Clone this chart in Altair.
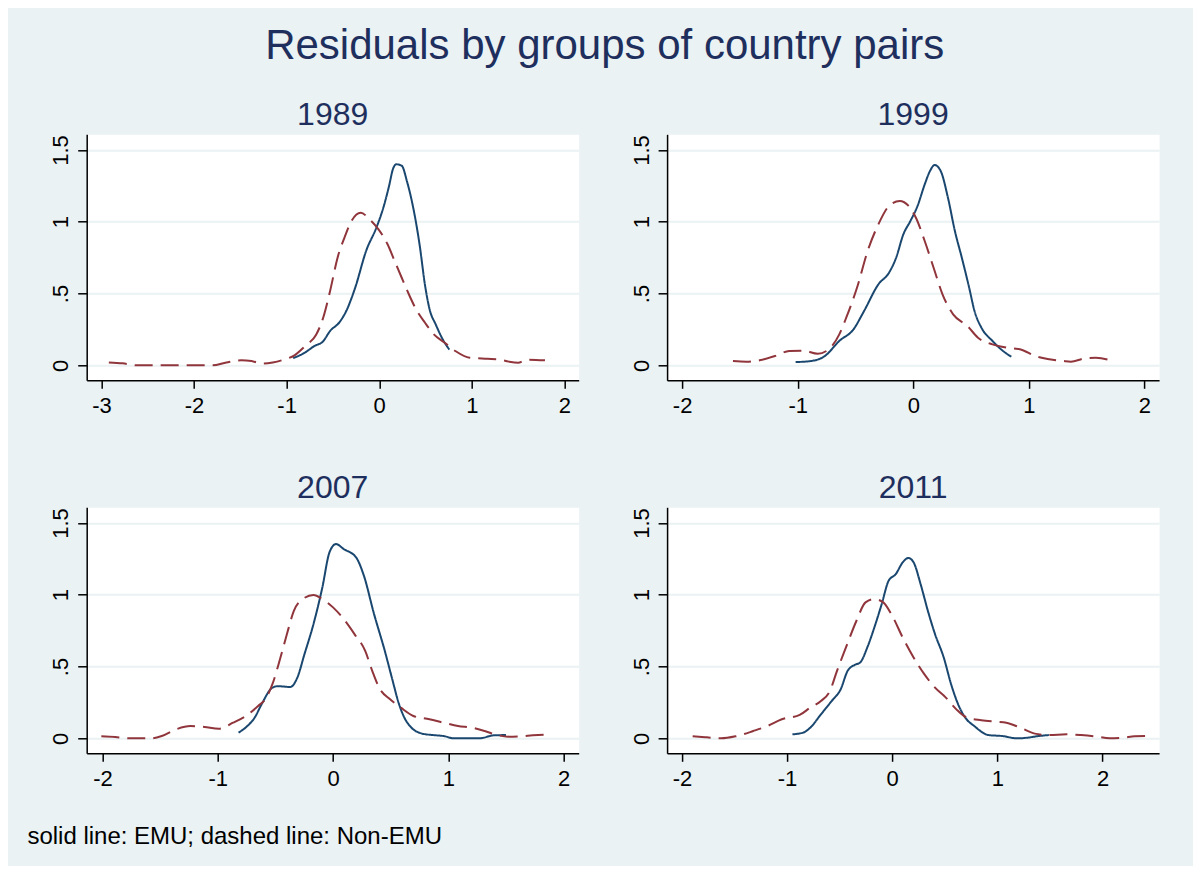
import altair as alt
import pandas as pd

# ---------------- data ----------------
YEARS = ["1989", "1999", "2007", "2011"]

EMU_1989_X = [-0.93, -0.80, -0.70, -0.61, -0.53, -0.43, -0.355, -0.26, -0.14, -0.03, 0.05, 0.11, 0.147, 0.185,
              0.243, 0.30, 0.36, 0.436, 0.494, 0.544, 0.61, 0.687, 0.757]
EMU_1989_Y = [0.05, 0.09, 0.135, 0.165, 0.24, 0.30, 0.38, 0.54, 0.80, 0.96, 1.11, 1.26, 1.365, 1.40,
              1.39, 1.28, 1.12, 0.84, 0.56, 0.39, 0.285, 0.18, 0.11]
NON_1989_X = [-2.92, -2.77, -2.61, -2.305, -1.80, -1.65, -1.49, -1.38, -1.26, -1.15, -1.03, -0.915, -0.80, -0.68,
              -0.606, -0.53, -0.45, -0.375, -0.30, -0.20, -0.104, -0.008, 0.09, 0.166, 0.243, 0.32, 0.398, 0.494,
              0.59, 0.707, 0.822, 0.977, 1.17, 1.286, 1.40, 1.50, 1.595, 1.79]
NON_1989_Y = [0.02, 0.014, 0.0, 0.0, 0.0, 0.02, 0.035, 0.03, 0.012, 0.02, 0.04, 0.07, 0.135, 0.215,
              0.33, 0.52, 0.75, 0.89, 1.005, 1.063, 1.017, 0.947, 0.843, 0.727, 0.61, 0.495, 0.39, 0.297,
              0.216, 0.158, 0.10, 0.053, 0.046, 0.042, 0.026, 0.019, 0.04, 0.035]

EMU_1999_X = [-1.018, -0.888, -0.765, -0.64, -0.518, -0.426, -0.302, -0.21, -0.148, -0.086, -0.025, 0.037, 0.099,
              0.145, 0.185, 0.237, 0.30, 0.36, 0.42, 0.484, 0.53, 0.59, 0.685, 0.777, 0.848]
EMU_1999_Y = [0.023, 0.03, 0.065, 0.17, 0.25, 0.378, 0.564, 0.645, 0.75, 0.912, 1.005, 1.11, 1.26,
              1.354, 1.395, 1.354, 1.168, 0.936, 0.75, 0.54, 0.378, 0.262, 0.17, 0.10, 0.06]
NON_1999_X = [-1.56, -1.443, -1.32, -1.197, -1.073, -0.95, -0.826, -0.734, -0.64, -0.58, -0.487, -0.395, -0.302,
              -0.21, -0.117, -0.04, 0.022, 0.099, 0.176, 0.253, 0.345, 0.469, 0.56, 0.685, 0.808, 0.93, 1.054,
              1.178, 1.30, 1.363, 1.486, 1.58, 1.733]
NON_1999_Y = [0.03, 0.026, 0.037, 0.065, 0.10, 0.102, 0.081, 0.11, 0.216, 0.332, 0.54, 0.796, 0.982,
              1.11, 1.145, 1.11, 1.03, 0.866, 0.68, 0.495, 0.355, 0.274, 0.193, 0.146, 0.123, 0.111, 0.065,
              0.042, 0.03, 0.026, 0.049, 0.053, 0.03]

EMU_2007_X = [-0.82, -0.743, -0.68, -0.62, -0.526, -0.48, -0.37, -0.31, -0.248, -0.17, -0.093, -0.031, 0.025,
              0.093, 0.20, 0.263, 0.356, 0.449, 0.51, 0.573, 0.619, 0.681, 0.774, 0.867, 0.96, 1.053, 1.269,
              1.393, 1.50]
EMU_2007_Y = [0.04, 0.086, 0.144, 0.237, 0.353, 0.363, 0.358, 0.423, 0.586, 0.795, 1.05, 1.295, 1.353,
              1.318, 1.26, 1.144, 0.865, 0.609, 0.423, 0.237, 0.144, 0.074, 0.033, 0.023, 0.016, 0.0, 0.0,
              0.021, 0.023]
NON_2007_X = [-2.01, -1.889, -1.765, -1.579, -1.486, -1.362, -1.238, -1.115, -0.99, -0.867, -0.743, -0.65, -0.588,
              -0.526, -0.464, -0.40, -0.34, -0.263, -0.17, -0.093, 0.0, 0.093, 0.186, 0.279, 0.34, 0.40, 0.495,
              0.588, 0.697, 0.836, 0.96, 1.084, 1.208, 1.316, 1.424, 1.517, 1.61, 1.734, 1.873]
NON_2007_Y = [0.014, 0.009, 0.0, 0.0, 0.016, 0.063, 0.086, 0.079, 0.067, 0.109, 0.163, 0.226, 0.272,
              0.377, 0.54, 0.726, 0.888, 0.97, 0.998, 0.97, 0.912, 0.83, 0.726, 0.609, 0.47, 0.353, 0.272,
              0.214, 0.156, 0.133, 0.109, 0.086, 0.074, 0.051, 0.023, 0.012, 0.014, 0.021, 0.028]

EMU_2011_X = [-0.949, -0.847, -0.78, -0.678, -0.576, -0.49, -0.424, -0.356, -0.305, -0.237, -0.17, -0.10, -0.034,
              0.034, 0.10, 0.153, 0.203, 0.27, 0.339, 0.407, 0.49, 0.56, 0.627, 0.695, 0.78, 0.915, 1.05, 1.186,
              1.288, 1.39, 1.49]
EMU_2011_Y = [0.028, 0.04, 0.074, 0.167, 0.26, 0.342, 0.47, 0.512, 0.528, 0.633, 0.772, 0.935, 1.098,
              1.144, 1.226, 1.256, 1.226, 1.074, 0.888, 0.726, 0.563, 0.377, 0.237, 0.144, 0.086, 0.023, 0.016, 0.0,
              0.005, 0.016, 0.023]
NON_2011_X = [-1.898, -1.763, -1.627, -1.49, -1.322, -1.186, -1.05, -0.88, -0.78, -0.678, -0.593, -0.525, -0.44,
              -0.34, -0.254, -0.17, -0.085, 0.0, 0.10, 0.203, 0.305, 0.407, 0.51, 0.61, 0.712, 0.847, 0.983,
              1.085, 1.22, 1.356, 1.49, 1.66, 1.796, 1.93, 2.068, 2.20, 2.305, 2.407]
NON_2011_Y = [0.014, 0.007, 0.0, 0.014, 0.051, 0.086, 0.133, 0.163, 0.214, 0.26, 0.33, 0.47, 0.633,
              0.819, 0.947, 0.97, 0.947, 0.853, 0.702, 0.563, 0.447, 0.353, 0.284, 0.202, 0.144, 0.126, 0.116,
              0.109, 0.074, 0.033, 0.023, 0.028, 0.023, 0.014, 0.0, 0.005, 0.014, 0.016]

X_TICKS_1989 = [-3, -2, -1, 0, 1, 2]
X_TICKS_OTHER = [-2, -1, 0, 1, 2]
Y_TICKS = [0, 0.5, 1, 1.5]

GROUPS = ["EMU", "Non-EMU"]
MAIN_TITLE = "Residuals by groups of country pairs"
NOTE = "solid line: EMU; dashed line: Non-EMU"

# ---------------- styling ----------------
BG = "#EAF2F3"
NAVY = "#1A476F"
MAROON = "#90353B"
TITLE_COLOR = "#1E2F5E"
FONT = "Liberation Sans"
W, H = 492, 246

SERIES = {
    "1989": (EMU_1989_X, EMU_1989_Y, NON_1989_X, NON_1989_Y, X_TICKS_1989, [-3.159, 2.154]),
    "1999": (EMU_1999_X, EMU_1999_Y, NON_1999_X, NON_1999_Y, X_TICKS_OTHER, [-2.13, 2.127]),
    "2007": (EMU_2007_X, EMU_2007_Y, NON_2007_X, NON_2007_Y, X_TICKS_OTHER, [-2.137, 2.131]),
    "2011": (EMU_2011_X, EMU_2011_Y, NON_2011_X, NON_2011_Y, X_TICKS_OTHER, [-2.141, 2.538]),
}
Y_DOMAIN = [-0.104, 1.609]


def text_layer(txt, x, y, size, color, align):
    return alt.Chart(pd.DataFrame({"t": [txt]})).mark_text(
        font=FONT, fontSize=size, color=color, align=align, baseline="alphabetic"
    ).encode(text="t:N", x=alt.value(x), y=alt.value(y))


def panel(year):
    ex, ey, nx, ny, ticks, xdom = SERIES[year]
    rows = []
    for i, (a, b) in enumerate(zip(ex, ey)):
        rows.append({"grp": "EMU", "x": a, "y": b, "i": i})
    for i, (a, b) in enumerate(zip(nx, ny)):
        rows.append({"grp": "Non-EMU", "x": a, "y": b, "i": i})
    df = pd.DataFrame(rows)

    lines = alt.Chart(df).mark_line(strokeWidth=2, interpolate="monotone").encode(
        x=alt.X("x:Q", title=None,
                scale=alt.Scale(domain=xdom, nice=False, zero=False),
                axis=alt.Axis(values=ticks, labelExpr="'' + datum.value", grid=False,
                              domainColor="#000000", domainWidth=1.5, tickColor="#000000",
                              tickWidth=1.5, tickSize=8, labelFont=FONT, labelFontSize=22,
                              labelColor="#000000", labelPadding=24.4, labelBaseline="alphabetic",
                              labelAlign="center", labelFlush=False, labelOverlap=False)),
        y=alt.Y("y:Q", title=None,
                scale=alt.Scale(domain=Y_DOMAIN, nice=False, zero=False),
                axis=alt.Axis(values=Y_TICKS,
                              labelExpr="datum.value == 0.5 ? '.5' : '' + datum.value",
                              grid=True, gridColor=BG, gridWidth=2,
                              domainColor="#000000", domainWidth=1.5, tickColor="#000000",
                              tickWidth=1.5, tickSize=9, labelFont=FONT, labelFontSize=22,
                              labelColor="#000000", labelAngle=270, labelAlign="center",
                              labelBaseline="alphabetic", labelPadding=9.7,
                              labelFlush=False, labelOverlap=False)),
        color=alt.Color("grp:N", scale=alt.Scale(domain=GROUPS, range=[NAVY, MAROON]), legend=None),
        strokeDash=alt.StrokeDash("grp:N", scale=alt.Scale(domain=GROUPS, range=[[1, 0], [18, 8]]),
                                  legend=None),
        order=alt.Order("i:Q"),
    )
    layers = [lines, text_layer(year, W / 2, -9, 32, TITLE_COLOR, "center")]
    if year == "1989":
        layers.append(text_layer(MAIN_TITLE, 518, -75, 42, TITLE_COLOR, "center"))
    if year == "2007":
        layers.append(text_layer(NOTE, -59.3, 337, 24, "#000000", "left"))
    return alt.layer(*layers).properties(width=W, height=H)


chart = alt.concat(
    *[panel(y) for y in YEARS],
    columns=2,
    spacing={"row": 127, "column": 88.4},
    bounds="flush",
).properties(
    background=BG,
    padding={"left": 18.7, "top": 16.3, "right": 33, "bottom": 16},
).configure_view(fill="white", stroke="transparent")

chart.save("out.html", embed_options={"renderer": "svg", "actions": False})
